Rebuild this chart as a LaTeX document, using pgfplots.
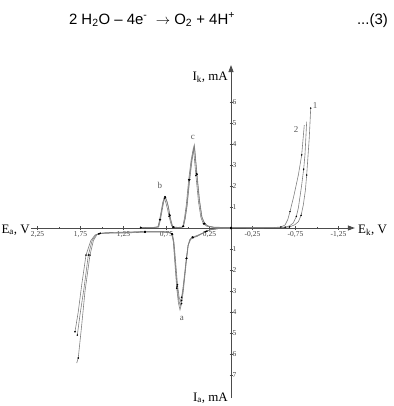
\documentclass[border=0pt]{standalone}
\usepackage{fontspec}
\setmainfont{Liberation Serif}
\newfontfamily\eqfont{Liberation Sans}
\usepackage{pgfplots}
\pgfplotsset{compat=1.18}
\usetikzlibrary{arrows.meta}

\pgfplotstableread{
u I
-1.05 0.03
-0.90 0.03
-0.845 0.06
-0.825 0.4
-0.806 0.86
-0.785 1.3
-0.767 1.49
-0.748 1.3
-0.729 1.01
-0.715 0.65
-0.701 0.38
-0.685 0.12
-0.671 0.05
-0.62 0.03
-0.57 0.04
-0.555 0.08
-0.535 0.45
-0.515 1.01
-0.485 2.29
-0.457 3.24
-0.427 3.95
-0.399 2.60
-0.369 1.33
-0.341 0.54
-0.31 0.22
-0.27 0.1
-0.2 0.04
0 0.02
0.3 0.02
0.6 0.02
0.68 0.05
0.74 0.15
0.783 0.30
0.815 0.6
0.841 1.10
0.865 1.8
0.88 2.52
0.895 3.4
0.91 4.29
0.927 5.71
}\upA

\pgfplotstableread{
u I
-1.05 0.02
-0.90 0.02
-0.85 0.05
-0.83 0.4
-0.812 0.8
-0.792 1.25
-0.775 1.42
-0.757 1.2
-0.738 0.9
-0.72 0.55
-0.705 0.3
-0.69 0.1
-0.675 0.04
-0.62 0.02
-0.575 0.03
-0.56 0.08
-0.54 0.5
-0.52 1.1
-0.492 2.3
-0.465 3.2
-0.437 3.82
-0.408 2.5
-0.378 1.25
-0.35 0.5
-0.32 0.2
-0.28 0.08
-0.2 0.03
0 0.02
0.3 0.01
0.5 0.02
0.58 0.05
0.628 0.14
0.66 0.4
0.686 0.78
0.733 1.57
0.783 2.52
0.822 3.48
0.852 4.90
}\upB

\pgfplotstableread{
u I
-1.05 0.02
-0.90 0.02
-0.84 0.05
-0.82 0.4
-0.80 0.85
-0.78 1.3
-0.762 1.45
-0.743 1.25
-0.725 0.95
-0.71 0.6
-0.696 0.33
-0.68 0.1
-0.665 0.04
-0.62 0.02
-0.57 0.03
-0.552 0.08
-0.532 0.45
-0.51 1.05
-0.48 2.3
-0.452 3.25
-0.424 3.88
-0.395 2.55
-0.365 1.3
-0.337 0.52
-0.305 0.2
-0.26 0.08
-0.2 0.03
0 0.02
0.3 0.02
0.55 0.02
0.63 0.04
0.68 0.1
0.724 0.24
0.76 0.55
0.783 0.95
0.822 2.05
0.845 2.8
0.86 3.48
0.88 5.06
}\upC

\pgfplotstableread{
u I
0.0 -0.02
-0.15 -0.03
-0.22 -0.07
-0.28 -0.15
-0.34 -0.28
-0.399 -0.41
-0.44 -0.46
-0.47 -0.55
-0.496 -0.81
-0.515 -1.44
-0.535 -2.24
-0.555 -3.03
-0.575 -3.6
-0.593 -3.9
-0.612 -3.55
-0.631 -2.87
-0.651 -1.76
-0.671 -0.65
-0.69 -0.28
-0.72 -0.2
-0.8 -0.16
-1.0 -0.16
-1.25 -0.2
-1.45 -0.22
-1.52 -0.25
-1.56 -0.32
-1.60 -0.6
-1.640 -1.29
-1.698 -3.03
-1.736 -4.62
-1.776 -6.19
-1.794 -6.43
}\loA

\pgfplotstableread{
u I
0.0 -0.02
-0.15 -0.03
-0.24 -0.08
-0.30 -0.18
-0.36 -0.3
-0.41 -0.38
-0.45 -0.43
-0.48 -0.55
-0.50 -0.85
-0.52 -1.45
-0.54 -2.2
-0.56 -2.9
-0.575 -3.3
-0.588 -3.5
-0.603 -3.3
-0.622 -2.7
-0.642 -1.7
-0.662 -0.7
-0.68 -0.3
-0.72 -0.22
-0.8 -0.2
-1.0 -0.2
-1.25 -0.24
-1.47 -0.25
-1.54 -0.28
-1.58 -0.33
-1.63 -0.6
-1.686 -1.29
-1.736 -2.71
-1.776 -3.99
-1.814 -4.94
}\loB

\pgfplotstableread{
u I
0.0 -0.02
-0.15 -0.03
-0.23 -0.07
-0.29 -0.16
-0.35 -0.29
-0.405 -0.4
-0.445 -0.45
-0.475 -0.55
-0.50 -0.83
-0.518 -1.45
-0.538 -2.22
-0.558 -2.95
-0.574 -3.45
-0.59 -3.7
-0.607 -3.45
-0.627 -2.8
-0.647 -1.72
-0.667 -0.66
-0.686 -0.27
-0.72 -0.21
-0.8 -0.18
-1.0 -0.18
-1.25 -0.22
-1.46 -0.24
-1.53 -0.27
-1.57 -0.32
-1.615 -0.6
-1.659 -1.29
-1.709 -2.86
-1.756 -4.14
-1.787 -5.10
}\loC

\pgfplotsset{cv/.style={draw=black!50, line width=0.6bp, mark=*, mark size=0.6bp,
     mark options={draw=black, fill=black, line width=0.3bp}, mark repeat=3}}

\begin{document}
\begin{tikzpicture}[x=1bp,y=1bp]
\path[use as bounding box] (0,0) rectangle (394,406);
\node[font=\eqfont\fontsize{15}{17}\selectfont, anchor=base, inner sep=0] at (152,382)
  {2 H\textsubscript{2}O – 4e\textsuperscript{-} \ $\rightarrow$ O\textsubscript{2} + 4H\textsuperscript{+}};
\node[font=\eqfont\fontsize{15}{17}\selectfont, anchor=base east, inner sep=0] at (388,382) {...(3)};

\begin{axis}[
  scale only axis, width=323.36bp, height=333.06bp,
  at={(31.48bp,7.9bp)}, anchor=south west,
  xmin=-2.32, xmax=1.44, ymin=-8.1, ymax=7.76,
  axis lines=middle, clip=false,
  axis line style={black!70, line width=0.8bp, -{Triangle[length=7bp,width=5bp]}},
  xtick={-2.25,-1.75,-1.25,-0.75,-0.25,0.25,0.75,1.25},
  xticklabels={{2,25},{1,75},{1,25},{0,75},{0,25},{-0,25},{-0,75},{-1,25}},
  minor xtick={-2,-1.5,-1,-0.5,0.5,1},
  ytick={-7,-6,-5,-4,-3,-2,-1,1,2,3,4,5,6},
  yticklabels={7,6,5,4,3,2,1,1,2,3,4,5,6},
  major tick length=3bp, minor tick length=2bp,
  tick style={black!70, line width=0.5bp},
  xticklabel style={font=\fontsize{7.5}{8}\selectfont, text=black!75, inner sep=1.5bp},
  yticklabel style={font=\fontsize{7.5}{8}\selectfont, text=black!75, anchor=west, inner sep=1.5bp, xshift=1.5bp},
]
\addplot[cv] table[x=u,y=I] {\upA};
\addplot[cv] table[x=u,y=I] {\upB};
\addplot[cv] table[x=u,y=I] {\upC};
\addplot[cv] table[x=u,y=I] {\loA};
\addplot[cv] table[x=u,y=I] {\loB};
\addplot[cv] table[x=u,y=I] {\loC};

\node[font=\fontsize{9}{10}\selectfont, text=black!65] at (axis cs:-0.442,4.29) {c};
\node[font=\fontsize{9}{10}\selectfont, text=black!65] at (axis cs:-0.826,2.05) {b};
\node[font=\fontsize{9}{10}\selectfont, text=black!65] at (axis cs:-0.570,-4.29) {a};
\node[font=\fontsize{9}{10}\selectfont, text=black!65] at (axis cs:0.977,5.81) {1};
\node[font=\fontsize{9}{10}\selectfont, text=black!65] at (axis cs:0.756,4.67) {2};
\end{axis}

\node[font=\fontsize{13}{15}\selectfont, anchor=base east, inner sep=0] at (30,173) {E\textsubscript{a}, V};
\node[font=\fontsize{13}{15}\selectfont, anchor=base west, inner sep=0] at (358,173) {E\textsubscript{k}, V};
\node[font=\fontsize{13}{15}\selectfont, anchor=base east, inner sep=0] at (228,326) {I\textsubscript{k}, mA};
\node[font=\fontsize{13}{15}\selectfont, anchor=base east, inner sep=0] at (228,5) {I\textsubscript{a}, mA};
\end{tikzpicture}
\end{document}
